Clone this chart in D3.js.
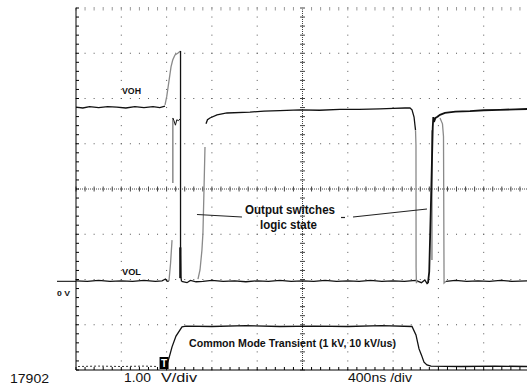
<!DOCTYPE html>
<html>
<head>
<meta charset="utf-8">
<script src="https://cdn.jsdelivr.net/npm/d3@7"></script>
<style>
  body { margin: 0; background: #fff; }
  svg { display: block; }
  .lbl { font-family: "Liberation Sans Narrow", "Arial Narrow", "Liberation Sans", Arial, sans-serif; font-weight: bold; fill: #111; }
  .note { font-family: "Liberation Sans", Arial, sans-serif; fill: #111; }
</style>
</head>
<body>
<div id="scope"></div>
<script>
'use strict';

// time axis: 400 ns/div, 10 divs ; output channel 1.00 V/div
const timeDomain = [0, 4000];
const voltDomain = [-1.96, 6.04];
const cmDomain = [0, 1];          // common mode transient, kV
const triggerTime = 782;

// output traces [ns, V]
const highBefore = [[0,3.85],[60,3.83],[120,3.86],[200,3.84],[280,3.86],[360,3.85],[440,3.83],[520,3.86],[600,3.84],[680,3.86],[740,3.84],[786,3.87]];
const highRise = [[786,3.9],[801,4.08],[839,4.74],[854,4.89],[874,5.0],[898,5.04],[912,5.07],[923,5.09]];
const switchDown = [[923,5.09],[923,0.6],[926,0.1],[932,0.0]];
const switchThick = [[921,0.75],[921,0.07]];
const lowBefore = [[0,0.01],[100,0.0],[200,0.02],[300,0.0],[400,0.01],[500,0.0],[600,0.02],[700,0.0],[760,0.01],[790,0.05],[805,0.0],[821,0.01]];
const glitchUpA = [[821,0.01],[835,0.4],[848,0.91]];
const glitchUpB = [[855,2.17],[855,3.61]];
const glitchTop = [[855,3.61],[865,3.55],[878,3.45],[890,3.57],[905,3.55],[918,3.59]];
const lowMid = [[932,0.0],[980,-0.03],[1010,0.02],[1060,-0.01],[1120,0.0],[1200,0.02],[1300,0.0],[1400,0.01],[1500,-0.01],[1600,0.01],[1700,0.0],[1800,0.02],[1900,0.0],[2000,0.01],[2100,0.0],[2200,0.02],[2300,0.0],[2400,0.01],[2500,0.0],[2600,0.02],[2700,0.0],[2800,0.01],[2900,0.0],[3000,0.02],[3050,-0.03],[3080,0.03],[3100,-0.05],[3108,-0.04]];
const recoverGray = [[1077,0.05],[1095,0.25],[1112,0.69],[1121,1.07],[1130,2.0],[1139,2.97]];
const recoverHigh = [[1148,3.48],[1161,3.57],[1183,3.61],[1245,3.68],[1333,3.72],[1536,3.74],[1660,3.76],[1800,3.77],[1978,3.79],[2150,3.78],[2331,3.8],[2500,3.8],[2684,3.81],[2800,3.82],[2905,3.83],[2949,3.83],[2967,3.79],[2985,3.63],[2993,3.45],[2998,3.34]];
const fallGray = [[2998,3.34],[3002,3.0],[3003,0.3],[3006,-0.04],[3012,0.0]];
const riseBlack = [[3108,-0.04],[3119,0.21],[3135,1.8],[3150,3.4],[3155,3.63],[3161,3.52],[3174,3.61],[3188,3.63],[3214,3.68],[3258,3.72],[3350,3.75],[3479,3.76],[3600,3.78],[3744,3.79],[3880,3.8],[4000,3.81]];
const riseGrayA = [[3143,0.47],[3143,3.34]];
const riseGrayB = [[3214,3.61],[3236,3.48],[3245,3.2],[3250,-0.04],[3267,0.0]];
const lowEnd = [[3267,0.0],[3350,0.02],[3450,0.0],[3550,0.01],[3650,0.0],[3750,0.02],[3850,0.0],[4000,0.01]];

// common mode trace [ns, kV]
const cmBefore = [[18,0.0],[200,0.01],[400,0.0],[600,0.01],[724,0.0]];
const cmPulse = [[804,0.06],[821,0.21],[848,0.49],[883,0.76],[936,0.99],[971,1.01],[1200,1.0],[1500,1.02],[1800,1.0],[2100,1.01],[2400,1.0],[2700,1.02],[2967,1.0],[3002,0.79],[3029,0.44],[3050,0.29],[3073,0.11],[3099,0.04],[3135,0.01],[3400,0.0],[3700,0.01],[4000,0.0]];

const width = 527, height = 385;
const svg = d3.select("#scope").append("svg")
    .attr("width", width)
    .attr("height", height);

let x = d3.scaleLinear().domain(timeDomain).range([76, 529]);
let y = d3.scaleLinear().domain(voltDomain).range([370, 8]);
let yCm = d3.scaleLinear().domain(cmDomain).range([366.5, 326.5]);
// graticule in divisions
let gx = d3.scaleLinear().domain([0, 10]).range([76, 529]);
let gy = d3.scaleLinear().domain([0, 8]).range([370, 8]);

let grid = svg.append("g").attr("class", "graticule");
let minorX = d3.range(0, 50.01, 1).map(d => d / 5);
let minorY = d3.range(0, 40.01, 1).map(d => d / 5);

// dotted major lines
for (let i = 1; i < 10; i++) {
    if (i === 5) continue;
    grid.selectAll(null).data(minorY).enter().append("rect")
        .attr("x", gx(i) - 0.5).attr("y", d => gy(d) - 0.5)
        .attr("width", 1).attr("height", 1).attr("fill", "#555");
}
for (let j = 1; j < 8; j++) {
    if (j === 4) continue;
    grid.selectAll(null).data(minorX).enter().append("rect")
        .attr("x", d => gx(d) - 0.5).attr("y", gy(j) - 0.5)
        .attr("width", 1).attr("height", 1).attr("fill", "#555");
}

// centre axes
grid.append("line")
    .attr("x1", gx(0)).attr("x2", gx(10)).attr("y1", gy(4)).attr("y2", gy(4))
    .attr("stroke", "#444").attr("stroke-dasharray", "1,1");
grid.append("line")
    .attr("x1", gx(5)).attr("x2", gx(5)).attr("y1", gy(0)).attr("y2", gy(8))
    .attr("stroke", "#444").attr("stroke-dasharray", "1,1");
grid.selectAll(".tx").data(minorX).enter().append("line")
    .attr("x1", d => gx(d)).attr("x2", d => gx(d))
    .attr("y1", gy(4) - 2.5).attr("y2", gy(4) + 2.5)
    .attr("stroke", "#444");
grid.selectAll(".ty").data(minorY).enter().append("line")
    .attr("x1", gx(5) - 2.5).attr("x2", gx(5) + 2.5)
    .attr("y1", d => gy(d)).attr("y2", d => gy(d))
    .attr("stroke", "#444");

// top ticks
grid.selectAll(".top").data(minorX).enter().append("line")
    .attr("x1", d => gx(d)).attr("x2", d => gx(d))
    .attr("y1", gy(8) - 1).attr("y2", gy(8) + 2.5)
    .attr("stroke", "#999");

// left and bottom frame with ticks
grid.append("line")
    .attr("x1", gx(0)).attr("x2", gx(0)).attr("y1", gy(8)).attr("y2", gy(0))
    .attr("stroke", "#000");
grid.append("line")
    .attr("x1", gx(0)).attr("x2", gx(10)).attr("y1", gy(0)).attr("y2", gy(0))
    .attr("stroke", "#000");
grid.selectAll(".lt").data(minorY).enter().append("line")
    .attr("x1", gx(0)).attr("x2", gx(0) + 3)
    .attr("y1", d => gy(d)).attr("y2", d => gy(d))
    .attr("stroke", "#000");
grid.selectAll(".bt").data(minorX).enter().append("line")
    .attr("x1", d => gx(d)).attr("x2", d => gx(d))
    .attr("y1", gy(0)).attr("y2", gy(0) - 3)
    .attr("stroke", "#000");

// traces
let line = d3.line().x(d => x(d[0])).y(d => y(d[1]));
let cmLine = d3.line().x(d => x(d[0])).y(d => yCm(d[1]));

const grayC = "#8a8a8a", blackC = "#111";
let traces = [
    { data: highBefore, color: blackC, w: 1.3 },
    { data: lowBefore, color: blackC, w: 1.3 },
    { data: lowMid, color: blackC, w: 1.3 },
    { data: lowEnd, color: blackC, w: 1.3 },
    { data: recoverHigh, color: blackC, w: 1.3 },
    { data: highRise, color: grayC, w: 1.3 },
    { data: glitchUpA, color: grayC, w: 1.3 },
    { data: glitchUpB, color: grayC, w: 1.5 },
    { data: glitchTop, color: blackC, w: 1 },
    { data: recoverGray, color: grayC, w: 1.3 },
    { data: fallGray, color: grayC, w: 1.3 },
    { data: riseGrayA, color: grayC, w: 1.5 },
    { data: riseGrayB, color: grayC, w: 1.3 },
    { data: switchDown, color: blackC, w: 1.3 },
    { data: switchThick, color: blackC, w: 2.2 },
    { data: riseBlack, color: blackC, w: 1.8 }
];

svg.append("g").selectAll("path").data(traces).enter().append("path")
    .attr("d", d => line(d.data))
    .attr("fill", "none")
    .attr("stroke", d => d.color)
    .attr("stroke-width", d => d.w);

svg.append("path")
    .attr("d", cmLine(cmBefore))
    .attr("fill", "none").attr("stroke", "#333")
    .attr("stroke-dasharray", "2,2").attr("stroke-width", 1);
svg.append("path")
    .attr("d", cmLine(cmPulse))
    .attr("fill", "none").attr("stroke", blackC)
    .attr("stroke-width", 1.3);

// ground marker
svg.append("line")
    .attr("x1", 57).attr("x2", gx(0)).attr("y1", y(0)).attr("y2", y(0))
    .attr("stroke", "#000");

// trigger marker
let tg = svg.append("g").attr("transform", "translate(" + (x(triggerTime) - 5) + ",357)");
tg.append("rect").attr("width", 9).attr("height", 12).attr("fill", "#000");
tg.append("text").attr("x", 4.5).attr("y", 10)
    .attr("text-anchor", "middle").attr("fill", "#fff")
    .style("font", "bold 10px 'Liberation Sans', Arial, sans-serif").text("T");

// annotation leaders
svg.append("line").attr("x1", 197).attr("y1", 214.5).attr("x2", 242).attr("y2", 217)
    .attr("stroke", "#222").attr("stroke-width", 1.2);
svg.append("line").attr("x1", 341).attr("y1", 217.5).attr("x2", 345).attr("y2", 217.5)
    .attr("stroke", "#222").attr("stroke-width", 1.2);
svg.append("line").attr("x1", 353).attr("y1", 217).attr("x2", 427).attr("y2", 209)
    .attr("stroke", "#222").attr("stroke-width", 1.2);

function label(txt, tx, ty, size, len, cls) {
    svg.append("text")
        .attr("class", cls || "lbl")
        .attr("x", tx).attr("y", ty)
        .attr("textLength", len).attr("lengthAdjust", "spacingAndGlyphs")
        .style("font-size", size + "px")
        .text(txt);
}

label("VOH", 122, 93.5, 9, 19);
label("VOL", 122, 274.5, 9, 19);
label("0 V", 57, 296, 8, 13);
label("Output switches", 245, 214, 12.5, 90);
label("logic state", 260, 229, 12.5, 57);
label("Common Mode Transient (1 kV, 10 kV/us)", 189, 346.5, 10, 207);
label("17902", 10, 383, 13, 39, "note");
label("1.00", 124, 381.5, 13, 27, "note");
label("V/div", 161, 381.5, 13, 36, "note");
label("400ns /div", 348, 382, 13, 64, "note");
</script>
</body>
</html>
